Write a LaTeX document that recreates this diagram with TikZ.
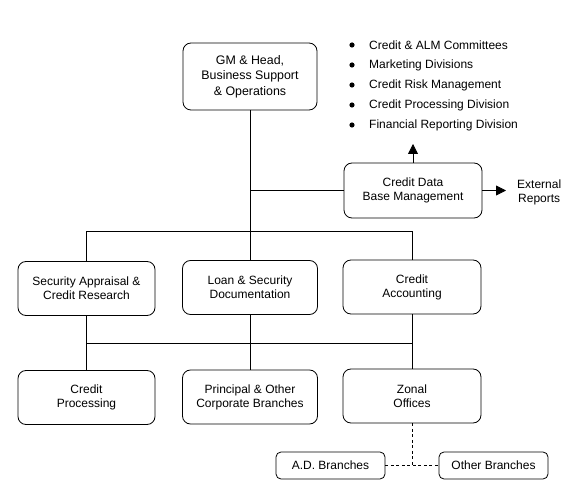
\documentclass[tikz,border=0pt]{standalone}
\usepackage{fontspec}
\setmainfont{Liberation Sans}
\usepackage{tikz}
\usetikzlibrary{arrows.meta}

\tikzset{
	unit/.style={draw,rounded corners=8pt,align=center,line width=0.8pt,
		minimum width=137pt,minimum height=54pt,inner sep=2pt,
		font=\fontsize{12}{14}\selectfont},
	branchbox/.style={unit,minimum width=109pt,minimum height=27pt,rounded corners=5pt},
	duty/.style={anchor=west,inner sep=0pt,font=\fontsize{12}{14}\selectfont},
	link/.style={line width=0.8pt},
	dotlink/.style={line width=0.8pt,dashed,dash pattern=on 3pt off 2.5pt},
	outarrow/.style={line width=0.8pt,-{Triangle[length=10pt,width=10pt]}}
}

\begin{document}
\begin{tikzpicture}[x=1pt,y=-1pt]
		\def\cz{2.6pt}
		\fill [white] (0,0) rectangle (571,489);
		% head of the division
		\node [unit,minimum width=134pt,minimum height=67pt,
			font=\fontsize{12.4}{15.5}\selectfont] (gm) at (250,76.5)
			{GM \& Head,\\Business Support\\\& Operations};
		% what the data base reports to
		\fill (352,45) circle (\cz)
			  (352,65) circle (\cz)
			  (352,85) circle (\cz)
			  (352,105) circle (\cz)
			  (352,125) circle (\cz);
		\node [duty] (alm) at (369,45) {Credit \& ALM Committees};
		\node [duty] (mkt) at (369,65) {Marketing Divisions};
		\node [duty] (risk) at (369,85) {Credit Risk Management};
		\node [duty] (proc) at (369,105) {Credit Processing Division};
		\node [duty] (fin) at (369,125) {Financial Reporting Division};
		\node [unit,minimum width=138pt,minimum height=55pt] (cdb) at (413,190.5)
			{Credit Data\\Base Management};
		\node [duty,align=center] (ext) at (517,192.5) {External\\Reports};
		\coordinate (up) at (413,144);
		\coordinate (out) at (506,190.5);
		% first row
		\node [unit] (sacr) at (86.5,288.5) {Security Appraisal \&\\Credit Research};
		\node [unit,minimum width=135pt] (lsd) at (250,287.5) {Loan \& Security\\Documentation};
		\node [unit,minimum width=138pt] (ca) at (412,287) {Credit\\Accounting};
		% second row
		\node [unit] (cp) at (86.5,397.5) {Credit\\Processing};
		\node [unit,minimum width=135pt] (poc) at (250,397) {Principal \& Other\\Corporate Branches};
		\node [unit,minimum width=138pt] (zo) at (412,396) {Zonal\\Offices};
		% branches
		\node [branchbox] (adb) at (330.5,465.5) {A.D. Branches};
		\node [branchbox] (ob) at (493.5,465.5) {Other Branches};
		\coordinate (top) at (250,231);
		\coordinate (mid) at (250,343);
		\draw [link] (gm.south) -- (top);
		\draw [link] (gm.south |- cdb.west) -- (cdb.west);
		\draw [outarrow] (cdb.north) -- (up);
		\draw [outarrow] (cdb.east) -- (out);
		\draw [link] (sacr.north) -- (sacr.north |- top) -- (ca.north |- top) -- (ca.north);
		\draw [link] (top) -- (lsd.north);
		\draw [link] (sacr.south |- mid) -- (ca.south |- mid);
		\draw [link] (sacr.south) -- (cp.north);
		\draw [link] (lsd.south) -- (poc.north);
		\draw [link] (ca.south) -- (zo.north);
		\draw [dotlink] (zo.south) -- (zo.south |- adb.east);
		\draw [dotlink] (adb.east) -- (ob.west);
	\end{tikzpicture}
\end{document}
